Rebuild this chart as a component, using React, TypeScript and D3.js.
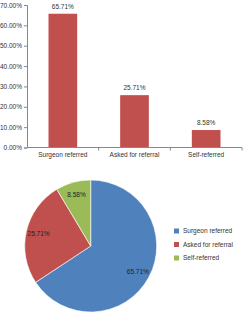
import React, { useEffect, useRef } from 'react'
import * as d3 from 'd3'

const categories = ['Surgeon referred', 'Asked for referral', 'Self-referred']
const values = [65.71, 25.71, 8.58]
const valueLabels = ['65.71%', '25.71%', '8.58%']
const yTicks = [0, 10, 20, 30, 40, 50, 60, 70]
const colors = ['#4F81BD', '#C0504D', '#9BBB59']

const FONT = '"Liberation Sans", Arial, sans-serif'

const Chart = () => {
  const ref = useRef<SVGSVGElement>(null)

  useEffect(() => {
    const svg = d3.select(ref.current)
    svg.selectAll('*').remove()

    // bar chart
    const x = d3.scaleBand<string>().domain(categories).range([27, 242]).paddingInner(0).paddingOuter(0)
    const y = d3.scaleLinear().domain([0, 70]).range([147.5, 5])
    const bars = svg.append('g')

    bars
      .selectAll('rect')
      .data(values)
      .join('rect')
      .attr('x', (d, i) => x(categories[i])! + x.bandwidth() * 0.3)
      .attr('width', x.bandwidth() * 0.4)
      .attr('y', d => y(d))
      .attr('height', d => y(0) - y(d))
      .attr('fill', '#C0504D')

    bars
      .selectAll('text.val')
      .data(values)
      .join('text')
      .attr('class', 'val')
      .attr('x', (d, i) => x(categories[i])! + x.bandwidth() / 2)
      .attr('y', d => y(d) - 5)
      .attr('text-anchor', 'middle')
      .attr('font-family', FONT)
      .attr('font-size', 6.5)
      .attr('fill', '#333')
      .text((d, i) => valueLabels[i])

    const yAxis = bars.append('g').attr('transform', 'translate(27,0)')
    yAxis.call(
      d3
        .axisLeft(y)
        .tickValues(yTicks)
        .tickSize(3)
        .tickPadding(2)
        .tickFormat(d => (d as number).toFixed(2) + '%')
    )
    yAxis.select('.domain').attr('stroke', '#888')
    yAxis.selectAll('line').attr('stroke', '#888')
    yAxis.selectAll('text').attr('font-family', FONT).attr('font-size', 6.5).attr('fill', '#333')

    const xAxis = bars.append('g').attr('transform', `translate(0,${y(0)})`)
    xAxis.append('line').attr('x1', 27).attr('x2', 242).attr('stroke', '#888')
    xAxis
      .selectAll('line.tk')
      .data(categories)
      .join('line')
      .attr('class', 'tk')
      .attr('x1', d => x(d)! + x.bandwidth())
      .attr('x2', d => x(d)! + x.bandwidth())
      .attr('y1', 0)
      .attr('y2', 3)
      .attr('stroke', '#888')
    xAxis
      .selectAll('text')
      .data(categories)
      .join('text')
      .attr('x', d => x(d)! + x.bandwidth() / 2)
      .attr('y', 9.5)
      .attr('text-anchor', 'middle')
      .attr('font-family', FONT)
      .attr('font-size', 6.5)
      .attr('fill', '#333')
      .text(d => d)

    // pie chart
    const cx = 90.7
    const cy = 246
    const R = 66
    const pie = d3.pie<number>().sort(null)(values)
    const arc = d3.arc<d3.PieArcDatum<number>>().innerRadius(0).outerRadius(R)
    const labelArc = d3.arc<d3.PieArcDatum<number>>().innerRadius(R * 0.81).outerRadius(R * 0.81)
    const pg = svg.append('g').attr('transform', `translate(${cx},${cy})`)
    pg.selectAll('path')
      .data(pie)
      .join('path')
      .attr('d', arc)
      .attr('fill', (d, i) => colors[i])
      .attr('stroke', '#fff')
      .attr('stroke-width', 0.6)
    pg.selectAll('text')
      .data(pie)
      .join('text')
      .attr('transform', d => `translate(${labelArc.centroid(d)})`)
      .attr('dy', '0.35em')
      .attr('text-anchor', 'middle')
      .attr('font-family', FONT)
      .attr('font-size', 6.5)
      .attr('fill', '#222')
      .text((d, i) => valueLabels[i])

    // legend
    const legendY = d3.scalePoint<string>().domain(categories).range([231, 258])
    const lg = svg.append('g')
    lg.selectAll('rect')
      .data(categories)
      .join('rect')
      .attr('x', 174)
      .attr('y', d => legendY(d)! - 2.5)
      .attr('width', 5)
      .attr('height', 5)
      .attr('fill', (d, i) => colors[i])
    lg.selectAll('text')
      .data(categories)
      .join('text')
      .attr('x', 183)
      .attr('y', d => legendY(d)!)
      .attr('dy', '0.35em')
      .attr('font-family', FONT)
      .attr('font-size', 6.5)
      .attr('fill', '#333')
      .text(d => d)
  }, [])

  return (
    <svg
      ref={ref}
      width={243}
      height={312}
      style={{ position: 'absolute', left: 0, top: 0, background: '#fff' }}
    />
  )
}

export default function App() {
  return <Chart />
}
